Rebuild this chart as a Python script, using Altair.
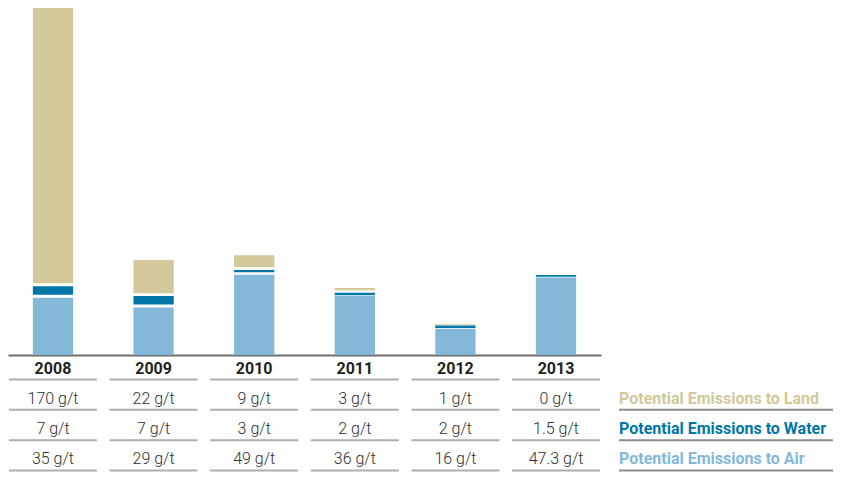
import altair as alt
import pandas as pd

years = ["2008", "2009", "2010", "2011", "2012", "2013"]
land = [170, 22, 9, 3, 1, 0]
water = [7, 7, 3, 2, 2, 1.5]
air = [35, 29, 49, 36, 16, 47.3]

series = ["Air", "Water", "Land"]
series_values = {"Air": air, "Water": water, "Land": land}
bar_colors = ["#84b8d9", "#0076a8", "#d3c899"]
legend_labels = {
    "Land": "Potential Emissions to Land",
    "Water": "Potential Emissions to Water",
    "Air": "Potential Emissions to Air",
}
legend_colors = ["#d6cb9e", "#0a76aa", "#8cbfe0"]
rows = ["year", "Land", "Water", "Air"]

FONT = "Roboto, Liberation Sans, sans-serif"
W = 593
LINE = "#8c8c8c"

bar_rows = []
for order, s in enumerate(series):
    for y, v in zip(years, series_values[s]):
        bar_rows.append({"year": y, "series": s, "value": v, "order": order})
bars_df = pd.DataFrame(bar_rows)

xscale = alt.Scale(domain=years, paddingInner=0.6, paddingOuter=0.247)

bars = (
    alt.Chart(bars_df)
    .transform_filter("datum.value > 0")
    .transform_stack(
        stack="value",
        groupby=["year"],
        as_=["s0", "s1"],
        sort=[alt.SortField("order", order="ascending")],
    )
    .transform_calculate(
        bot="datum.s0 > 0 ? max(datum.s0 + 0.5, min(datum.s0 + 1.8, datum.s1 - 1.5)) : datum.s0"
    )
    .mark_bar()
    .encode(
        x=alt.X(
            "year:N",
            scale=xscale,
            axis=alt.Axis(
                labels=False, ticks=False, title=None, domainColor="#6e6e6e",
                domainWidth=2, grid=False,
            ),
        ),
        y=alt.Y("s1:Q", scale=alt.Scale(domain=[0, 212], nice=False), axis=None),
        y2="bot:Q",
        color=alt.Color(
            "series:N", scale=alt.Scale(domain=series, range=bar_colors), legend=None
        ),
    )
    .properties(width=W, height=347)
)

# table
tab_rows = []
for i, y in enumerate(years):
    tab_rows.append({"year": y, "row": "year", "label": y})
    tab_rows.append({"year": y, "row": "Land", "label": f"{land[i]:g} g/t"})
    tab_rows.append({"year": y, "row": "Water", "label": f"{water[i]:g} g/t"})
    tab_rows.append({"year": y, "row": "Air", "label": f"{air[i]:g} g/t"})
tab_df = pd.DataFrame(tab_rows)

TH = 118
yscale = alt.Scale(type="point", domain=rows, padding=0.45)
tx = alt.X("year:N", scale=xscale, axis=None)
ty = alt.Y("row:N", scale=yscale, axis=None)

tbase = alt.Chart(tab_df)
year_text = tbase.transform_filter("datum.row == 'year'").mark_text(
    font=FONT, fontSize=16, fontWeight="bold", color="#231f20", baseline="middle"
).encode(x=tx, y=ty, text="label:N")
val_text = tbase.transform_filter("datum.row != 'year'").mark_text(
    font=FONT, fontSize=16, fontWeight=300, color="#2f2f2f", baseline="middle"
).encode(x=tx, y=ty, text="label:N")
ticks = tbase.mark_tick(
    orient="horizontal", size=88, thickness=2, yOffset=11, color=LINE
).encode(x=tx, y=ty)

table = alt.layer(ticks, year_text, val_text).properties(width=W, height=TH)

leg_df = pd.DataFrame(
    {"row": ["Land", "Water", "Air"], "label": [legend_labels[r] for r in ["Land", "Water", "Air"]]}
)
LW = 214
lbase = alt.Chart(leg_df)
leg_text = lbase.mark_text(
    font=FONT, fontSize=16, fontWeight="bold", align="left", baseline="middle"
).encode(
    x=alt.value(0),
    y=ty,
    text="label:N",
    color=alt.Color(
        "row:N", scale=alt.Scale(domain=["Land", "Water", "Air"], range=legend_colors), legend=None
    ),
)
leg_rule = lbase.mark_rule(strokeWidth=2, yOffset=11, color=LINE).encode(
    x=alt.value(0), x2=alt.value(LW), y=ty
)
legend = alt.layer(leg_rule, leg_text).properties(width=LW, height=TH)

bottom = alt.hconcat(table, legend, spacing=17)

chart = (
    alt.vconcat(bars, bottom, spacing=0)
    .properties(padding=0, background="white")
    .configure_view(stroke=None)
    .configure_concat(spacing=0)
)

chart.save("out.html", embed_options={"renderer": "svg", "actions": False})
